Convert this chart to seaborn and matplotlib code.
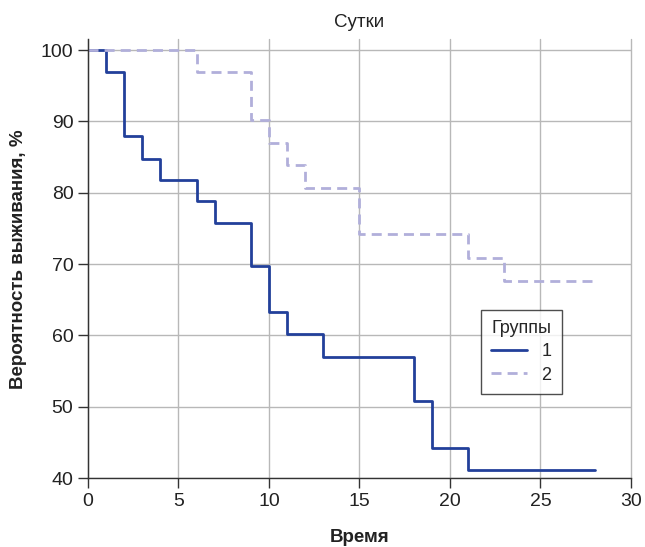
import matplotlib
matplotlib.use("Agg")
import matplotlib.pyplot as plt
import pandas as pd
import seaborn as sns

# Данные
time_g1 = [0, 1, 2, 3, 4, 6, 7, 9, 10, 11, 13, 18, 19, 21, 28]
surv_g1 = [100, 97.0, 87.9, 84.8, 81.8, 78.8, 75.8, 69.7, 63.3, 60.2, 57.0, 50.8, 44.2, 41.1, 41.1]
time_g2 = [0, 6, 9, 10, 11, 12, 15, 21, 23, 28]
surv_g2 = [100, 96.9, 90.2, 87.0, 83.9, 80.7, 74.2, 70.9, 67.7, 67.7]
groups = ["1", "2"]
colors = ["#22409a", "#b1afda"]

df = pd.concat([
    pd.DataFrame({"Время": time_g1, "surv": surv_g1, "Группы": groups[0]}),
    pd.DataFrame({"Время": time_g2, "surv": surv_g2, "Группы": groups[1]}),
])

sns.set_style("white")
plt.rcParams["font.family"] = ["Liberation Sans", "DejaVu Sans"]

fig = plt.figure(figsize=(6.45, 5.47), dpi=100)
ax = fig.add_axes([0.1364, 0.1261, 0.8419, 0.8017])

sns.lineplot(data=df, x="Время", y="surv", hue="Группы", style="Группы",
             palette=dict(zip(groups, colors)),
             dashes={"1": "", "2": (3.6, 2.2)},
             drawstyle="steps-post", linewidth=2, ax=ax)

ax.set_xlim(0, 30)
ax.set_ylim(40, 101.5)
ax.set_xticks([0, 5, 10, 15, 20, 25, 30])
ax.set_yticks([40, 50, 60, 70, 80, 90, 100])
ax.grid(True, color="#b8b8b8", linewidth=1)
ax.set_axisbelow(True)
for line in ax.get_xgridlines():
    line.set_clip_on(False)
for s in ["top", "right"]:
    ax.spines[s].set_visible(False)
for s in ["left", "bottom"]:
    ax.spines[s].set_color("#333333")
    ax.spines[s].set_linewidth(1)
ax.tick_params(axis="both", direction="out", length=7.5, width=1, color="#333333",
               labelsize=14, labelcolor="#222222", left=True, bottom=True, pad=3)

ax.set_title("Сутки", fontsize=13.5, color="#222222", pad=9)
ax.set_xlabel("Время", fontsize=13.5, fontweight="bold", color="#222222", labelpad=14)
ax.set_ylabel("Вероятность выживания, %", fontsize=13.5, fontweight="bold",
              color="#222222", labelpad=10)

leg = ax.legend(title="Группы", loc="upper left", bbox_to_anchor=(0.724, 0.383),
                borderaxespad=0, fontsize=13, title_fontsize=13, frameon=True,
                fancybox=False, handlelength=2.0, borderpad=0.55, labelspacing=0.35)
leg.get_frame().set_edgecolor("#222222")
leg.get_frame().set_linewidth(1)

fig.savefig("out.png", dpi=100)
